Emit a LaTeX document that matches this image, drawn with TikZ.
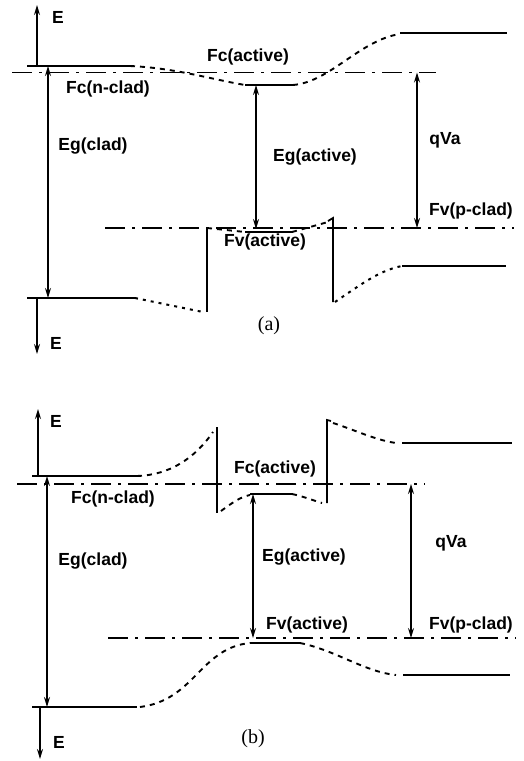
\documentclass[tikz,border=0pt]{standalone}
\usepackage{fontspec}
\setmainfont{Liberation Serif}
\setsansfont{Liberation Sans}
\usetikzlibrary{arrows.meta}
\newcommand{\labfont}{\sffamily\bfseries\fontsize{17.5}{20}\selectfont}
\newcommand{\capfont}{\rmfamily\fontsize{20}{23}\selectfont}
\tikzset{
  band/.style={line width=1.8pt},
  dsh/.style={line width=1.9pt, dash pattern=on 5pt off 5pt},
  dotl/.style={line width=2pt, dash pattern=on 3pt off 5pt},
  fermi/.style={line width=1.7pt, dash pattern=on 20pt off 7pt on 3pt off 7pt},
  arr/.style={line width=1.4pt, -{Stealth[length=10pt,width=6pt]}},
  darr/.style={line width=1.4pt, {Stealth[length=10pt,width=6pt]}-{Stealth[length=10pt,width=6pt]}},
  lab/.style={font=\labfont, inner sep=0pt},
  captxt/.style={font=\capfont, inner sep=0pt}
}
\begin{document}
\begin{tikzpicture}[x=1pt,y=-1pt]
\useasboundingbox (0,0) rectangle (523,761);
% ================= panel (a) =================
% Fermi levels
\draw[fermi] (12,72.5) -- (436,72.5);
\draw[fermi] (105,228) -- (514,228);
% conduction band
\draw[band] (27,66) -- (130,66);
\draw[dsh] (130,66) .. controls (175,68) and (210,79) .. (245,85);
\draw[band] (245,85) -- (293,85);
\draw[dsh] (293,85) .. controls (330,82) and (360,40) .. (400,34);
\draw[band] (400,33) -- (507,33);
% valence band
\draw[band] (27,298) -- (135,298);
\draw[dotl] (135,298) -- (203,312);
\draw[band] (207,228) -- (207,312);
\draw[dsh] (207,228) -- (245,232);
\draw[band] (245,232) -- (292,232);
\draw[dsh] (292,232) -- (328,222);
\draw[band] (328,221) -- (333,218) -- (333,302);
\draw[dotl] (335,302) .. controls (360,285) and (380,270) .. (402,266);
\draw[band] (402,266) -- (506,266);
% arrows
\coordinate (aE0) at (37,66);  \coordinate (aE1) at (37,5);
\coordinate (aE2) at (37,298); \coordinate (aE3) at (37,354);
\coordinate (aG0) at (48,66);  \coordinate (aG1) at (48,298);
\coordinate (aA0) at (256,85); \coordinate (aA1) at (256,229);
\coordinate (aQ0) at (417,72.5); \coordinate (aQ1) at (417,228);
\draw[arr] (aE0) -- (aE1);
\draw[arr] (aE2) -- (aE3);
\draw[darr] (aG0) -- (aG1);
\draw[darr] (aA0) -- (aA1);
\draw[darr] (aQ0) -- (aQ1);
% labels
\node[lab] (laE1) at (58,17) {E};
\node[lab] (laE2) at (56,343) {E};
\node[lab] (laFca) at (248,57) {Fc(active)};
\node[lab] (laFcn) at (108,89) {Fc(n-clad)};
\node[lab] (laEgc) at (93,146) {Eg(clad)};
\node[lab] (laEga) at (315,157) {Eg(active)};
\node[lab] (laqVa) at (445,140) {qVa};
\node[lab] (laFvp) at (471,211) {Fv(p-clad)};
\node[lab] (laFva) at (265,242) {Fv(active)};
\node[captxt] (lacap) at (269,326) {(a)};
% ================= panel (b) =================
\draw[fermi] (17,484) -- (425,484);
\draw[fermi] (108,638) -- (516,638);
% conduction band
\draw[band] (32,476) -- (137,476);
\draw[dsh] (137,476) .. controls (170,475) and (195,458) .. (213,432);
\draw[band] (217,427) -- (217,513);
\draw[dsh] (221,511) .. controls (232,503) and (240,497) .. (250,495);
\draw[band] (250,494) -- (292,494);
\draw[dsh] (292,494) .. controls (302,496) and (312,500) .. (322,503);
\draw[band] (331,421) -- (327,420) -- (327,503);
\draw[dsh] (333,423) .. controls (355,430) and (375,440) .. (396,443);
\draw[band] (402,443) -- (512,443);
% valence band
\draw[band] (32,707) -- (137,707);
\draw[dsh] (140,707) .. controls (195,700) and (200,648) .. (250,643);
\draw[band] (250,643) -- (300,643);
\draw[dsh] (300,643) .. controls (335,650) and (365,672) .. (396,675);
\draw[band] (403,675) -- (510,675);
% arrows
\coordinate (bE0) at (38,476); \coordinate (bE1) at (38,409);
\coordinate (bE2) at (40,707); \coordinate (bE3) at (40,759);
\coordinate (bG0) at (47,476); \coordinate (bG1) at (47,707);
\coordinate (bA0) at (253,494); \coordinate (bA1) at (253,638);
\coordinate (bQ0) at (411,484); \coordinate (bQ1) at (411,638);
\draw[arr] (bE0) -- (bE1);
\draw[arr] (bE2) -- (bE3);
\draw[darr] (bG0) -- (bG1);
\draw[darr] (bA0) -- (bA1);
\draw[darr] (bQ0) -- (bQ1);
% labels
\node[lab] (lbE1) at (56,421) {E};
\node[lab] (lbE2) at (59,742) {E};
\node[lab] (lbFca) at (275,469) {Fc(active)};
\node[lab] (lbFcn) at (113,499) {Fc(n-clad)};
\node[lab] (lbEgc) at (93,561) {Eg(clad)};
\node[lab] (lbEga) at (304,557) {Eg(active)};
\node[lab] (lbqVa) at (451,543) {qVa};
\node[lab] (lbFvp) at (471,625) {Fv(p-clad)};
\node[lab] (lbFva) at (307,625) {Fv(active)};
\node[captxt] (lbcap) at (253,739) {(b)};
\end{tikzpicture}
\end{document}
